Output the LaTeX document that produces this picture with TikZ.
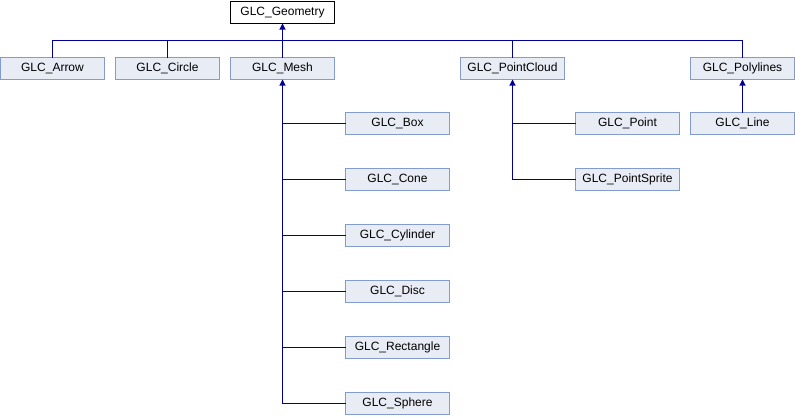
\documentclass[tikz,border=0pt]{standalone}
\usepackage{fontspec}
\setmainfont{Liberation Sans}
\usetikzlibrary{arrows.meta}
\definecolor{boxfill}{RGB}{232,236,245}
\definecolor{boxline}{RGB}{132,155,205}
\definecolor{edgeblue}{RGB}{0,0,150}
\tikzset{
  cls/.style={draw=boxline, fill=boxfill, line width=1pt, anchor=north west,
    minimum width=104pt, minimum height=22pt, inner sep=0pt, outer sep=0pt,
    font=\fontsize{12}{14}\selectfont},
  root/.style={cls, draw=black, fill=white},
  link/.style={draw=edgeblue, line width=1.1pt},
  inherit/.style={link, -{Triangle[width=6pt,length=6pt]}}
}
\begin{document}
\begin{tikzpicture}[x=1pt, y=-1pt]
\useasboundingbox (0,0) rectangle (795,416);
% base class
\node[root] (geometry) at (230.5,1.5) {GLC\_Geometry};
% first level
\node[cls] (arrow)      at (0.5,57.5)   {GLC\_Arrow};
\node[cls] (circle)     at (115.5,57.5) {GLC\_Circle};
\node[cls] (mesh)       at (230.5,57.5) {GLC\_Mesh};
\node[cls] (pointcloud) at (460.5,57.5) {GLC\_PointCloud};
\node[cls] (polylines)  at (690.5,57.5) {GLC\_Polylines};
% mesh subclasses
\node[cls] (box)       at (345.5,112.5) {GLC\_Box};
\node[cls] (cone)      at (345.5,168.5) {GLC\_Cone};
\node[cls] (cylinder)  at (345.5,224.5) {GLC\_Cylinder};
\node[cls] (disc)      at (345.5,280.5) {GLC\_Disc};
\node[cls] (rectangle) at (345.5,336.5) {GLC\_Rectangle};
\node[cls] (sphere)    at (345.5,392.5) {GLC\_Sphere};
% point cloud subclasses
\node[cls] (point)       at (575.5,112.5) {GLC\_Point};
\node[cls] (pointsprite) at (575.5,168.5) {GLC\_PointSprite};
% polylines subclass
\node[cls] (line) at (690.5,112.5) {GLC\_Line};

% bus below the base class
\coordinate (bus) at (282.5,40.5);
\draw[link] (arrow.north) |- (polylines.north |- bus) -- (polylines.north);
\draw[link] (circle.north) -- (circle.north |- bus);
\draw[link] (pointcloud.north) -- (pointcloud.north |- bus);
\draw[inherit] (mesh.north) -- (geometry.south);

% mesh branch
\draw[inherit] (sphere.west) -| (mesh.south);
\foreach \c in {box,cone,cylinder,disc,rectangle}
  \draw[link] (\c.west) -- (\c.west -| mesh.south);

% point cloud branch
\draw[inherit] (pointsprite.west) -| (pointcloud.south);
\draw[link] (point.west) -- (point.west -| pointcloud.south);

% polylines branch
\draw[inherit] (line.north) -- (polylines.south);
\end{tikzpicture}
\end{document}
